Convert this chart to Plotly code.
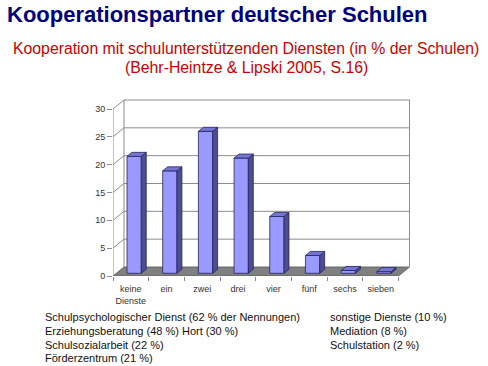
import plotly.graph_objects as go

# ---- data ----
categories = ["keine<br>Dienste", "ein", "zwei", "drei", "vier", "fünf", "sechs", "sieben"]
values = [21.0, 18.4, 25.5, 20.7, 10.2, 3.2, 0.5, 0.3]
y_ticks = [0, 5, 10, 15, 20, 25, 30]

title_main = "Kooperationspartner deutscher Schulen"
subtitle_1 = "Kooperation mit schulunterstützenden Diensten (in % der Schulen)"
subtitle_2 = "(Behr-Heintze & Lipski 2005, S.16)"
notes_left = ["Schulpsychologischer Dienst (62 % der Nennungen)",
              "Erziehungsberatung (48 %) Hort (30 %)",
              "Schulsozialarbeit (22 %)",
              "Förderzentrum (21 %)"]
notes_right = ["sonstige Dienste (10 %)", "Mediation (8 %)", "Schulstation (2 %)"]

# ---- layout geometry ----
W, H = 488, 366
ML, MR, MT, MB = 113, 77, 99, 90
XMAX = 8.35
YMAX = 31.8
n = len(categories)
DX, DY = 0.308, 1.62        # full depth offset in axis units
F1, FD = 0.30, 0.45         # bar front depth fraction, bar depth fraction
BW = 0.40                   # bar width in slot units
TOPV = y_ticks[-1]

front_c = "#9999ff"
side_c = "#4d4d94"
top_c = "#7575d6"
edge_c = "#26265c"
grid_c = "#8c8c8c"

def px2paper_x(px):
    return (px - ML) / (W - ML - MR)

def px2paper_y(py):
    return (H - MB - py) / (H - MT - MB)

fig = go.Figure()
shapes = []

# floor
shapes.append(dict(type="path", layer="below",
                   path=f"M 0 0 L {n} 0 L {n+DX} {DY} L {DX} {DY} Z",
                   fillcolor="#808080", line=dict(color="#555555", width=0.8)))
# wall edges
shapes.append(dict(type="line", layer="below", x0=DX, y0=DY, x1=DX, y1=TOPV + DY,
                   line=dict(color=grid_c, width=1)))
shapes.append(dict(type="line", layer="below", x0=n + DX, y0=DY, x1=n + DX, y1=TOPV + DY,
                   line=dict(color=grid_c, width=1)))
shapes.append(dict(type="line", layer="below", x0=0, y0=0, x1=0, y1=TOPV,
                   line=dict(color=grid_c, width=1)))
# gridlines
for v in y_ticks[1:]:
    shapes.append(dict(type="path", layer="below",
                       path=f"M 0 {v} L {DX} {v+DY} L {n+DX} {v+DY}",
                       line=dict(color=grid_c, width=1)))

# bars - front faces
x0s = [i + (1 - BW) / 2 + F1 * DX for i in range(n)]
yb = F1 * DY
fig.add_trace(go.Bar(x=[x + BW / 2 for x in x0s], y=values, base=yb, width=BW,
                     marker=dict(color=front_c, line=dict(color=edge_c, width=0.8)),
                     hoverinfo="skip", showlegend=False))

# side and top faces
ddx, ddy = FD * DX, FD * DY
for x0, v in zip(x0s, values):
    x1 = x0 + BW
    fig.add_trace(go.Scatter(
        x=[x1, x1 + ddx, x1 + ddx, x1, x1],
        y=[yb, yb + ddy, yb + v + ddy, yb + v, yb],
        mode="lines", fill="toself", fillcolor=side_c,
        line=dict(color=edge_c, width=0.8), hoverinfo="skip", showlegend=False))
    fig.add_trace(go.Scatter(
        x=[x0, x1, x1 + ddx, x0 + ddx, x0],
        y=[yb + v, yb + v, yb + v + ddy, yb + v + ddy, yb + v],
        mode="lines", fill="toself", fillcolor=top_c,
        line=dict(color=edge_c, width=0.8), hoverinfo="skip", showlegend=False))

annotations = []
annotations.append(dict(text=f"<b>{title_main}</b>", x=px2paper_x(5), y=px2paper_y(14),
                        xref="paper", yref="paper", xanchor="left", yanchor="middle",
                        showarrow=False, font=dict(family="Liberation Sans", size=22, color="#000080")))
annotations.append(dict(text=subtitle_1, x=px2paper_x(246), y=px2paper_y(48),
                        xref="paper", yref="paper", xanchor="center", yanchor="middle",
                        showarrow=False, font=dict(family="Liberation Sans", size=15.8, color="#cc0000")))
annotations.append(dict(text=subtitle_2, x=px2paper_x(246), y=px2paper_y(68),
                        xref="paper", yref="paper", xanchor="center", yanchor="middle",
                        showarrow=False, font=dict(family="Liberation Sans", size=15.8, color="#cc0000")))
ys = [317, 331, 344.5, 358]
for t, yy in zip(notes_left, ys):
    annotations.append(dict(text=t, x=px2paper_x(43), y=px2paper_y(yy),
                            xref="paper", yref="paper", xanchor="left", yanchor="middle",
                            showarrow=False, font=dict(family="Liberation Sans", size=11, color="#111111")))
for t, yy in zip(notes_right, ys):
    annotations.append(dict(text=t, x=px2paper_x(328), y=px2paper_y(yy),
                            xref="paper", yref="paper", xanchor="left", yanchor="middle",
                            showarrow=False, font=dict(family="Liberation Sans", size=11, color="#111111")))

fig.update_layout(
    width=W, height=H, margin=dict(l=ML, r=MR, t=MT, b=MB, pad=0),
    paper_bgcolor="white", plot_bgcolor="white",
    shapes=shapes, annotations=annotations, showlegend=False,
    xaxis=dict(range=[0, XMAX], tickvals=[i + 0.5 for i in range(n)], ticktext=categories,
               ticks="", showgrid=False, zeroline=False, showline=False,
               ticklabelstandoff=6,
               tickfont=dict(family="Liberation Sans", size=9, color="#333333"),
               minor=dict(tickvals=list(range(n + 1)), ticks="outside", ticklen=4,
                          tickcolor=grid_c, showgrid=False),
               fixedrange=True),
    yaxis=dict(range=[0, YMAX], tickvals=y_ticks, ticks="outside", ticklen=5,
               tickcolor=grid_c, showgrid=False, zeroline=False, showline=False,
               tickfont=dict(family="Liberation Sans", size=9, color="#333333"),
               fixedrange=True),
)

fig.write_html("out.html", config={"displayModeBar": False},
               post_script="document.body.style.margin='0px';")
